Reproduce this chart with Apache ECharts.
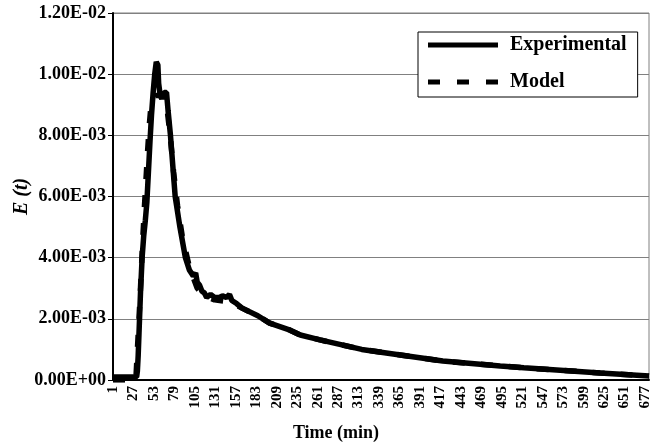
<!DOCTYPE html>
<html>
<head>
<meta charset="UTF-8">
<title>E(t) chart</title>
<script src="https://cdn.jsdelivr.net/npm/echarts@6.0.0/dist/echarts.min.js"></script>
<style>
  html, body { margin: 0; padding: 0; background: #fff; }
  #main { width: 651px; height: 443px; }
</style>
</head>
<body>
<div id="main"></div>
<script>
// tick labels on the time axis
var timeTicks = [1, 27, 53, 79, 105, 131, 157, 183, 209, 235, 261, 287, 313, 339, 365,
  391, 417, 443, 469, 495, 521, 547, 573, 599, 625, 651, 677];

// experimental curve (time, E)
var expTime = [1, 31, 32, 33, 34, 35, 36, 38, 40, 42, 44, 46, 48, 50, 52, 54, 56, 57, 58, 59,
  61, 63, 66, 69, 71, 74, 77, 80, 86, 93, 98, 103, 106, 108, 111, 114, 117, 120, 125, 130,
  136, 140, 145, 149, 152, 158, 165, 185, 200, 226, 239, 264, 317, 366, 420, 493, 523, 620, 682];
var expVal = [0.0001, 0.0001, 0.0003, 0.0008, 0.0015, 0.0022, 0.0029, 0.0040, 0.0047, 0.0052,
  0.0058, 0.0068, 0.0078, 0.0087, 0.0094, 0.0100, 0.0104, 0.01045, 0.0103, 0.0097,
  0.0093, 0.0092, 0.0094, 0.0094, 0.0088, 0.0080, 0.0070, 0.0060, 0.0050, 0.0040, 0.0036, 0.0034, 0.0035, 0.0032, 0.0031, 0.0029,
  0.00285, 0.0027, 0.0028, 0.0027, 0.0027, 0.00275, 0.0027, 0.0028, 0.0026, 0.0025,
  0.00235, 0.0021, 0.00186, 0.00163, 0.00147, 0.00131, 0.00100, 0.00082, 0.00062, 0.00046, 0.00040, 0.00023, 0.00013];

// model curve (time, E)
var modelTime = [1, 30, 31, 33, 35, 37, 39, 41, 43, 45, 47, 49, 51, 55, 60, 66, 70, 74, 78,
  83, 89, 98, 108, 117, 130, 150, 165, 185, 200, 226, 239, 264, 317, 366, 420, 493, 523, 620, 682];
var modelVal = [0, 0, 0.0005, 0.0015, 0.0025, 0.0036, 0.0047, 0.0057, 0.0066, 0.0075, 0.0083,
  0.0089, 0.0092, 0.0093, 0.0093, 0.0093, 0.0088, 0.0079, 0.0068, 0.0057, 0.0047, 0.0037,
  0.0030, 0.00275, 0.00262, 0.00255, 0.00235, 0.0021, 0.00186, 0.00163, 0.00147, 0.00131,
  0.00100, 0.00082, 0.00062, 0.00046, 0.00040, 0.00023, 0.00013];

function pairs(xs, ys) {
  var out = [];
  for (var i = 0; i < xs.length; i++) out.push([xs[i], ys[i]]);
  return out;
}

// 1.20E-02 style labels
function sci(v) {
  if (v === 0) return '0.00E+00';
  var s = v.toExponential(2).toUpperCase();
  var parts = s.split('E');
  var exp = parseInt(parts[1], 10);
  var sign = exp < 0 ? '-' : '+';
  var abs = Math.abs(exp);
  return parts[0] + 'E' + sign + (abs < 10 ? '0' + abs : abs);
}

var serif = '"Liberation Serif", "DejaVu Serif", serif';
var chart = echarts.init(document.getElementById('main'));

chart.setOption({
  animation: false,
  backgroundColor: '#fff',
  grid: {
    left: 113, right: 2, top: 13, bottom: 63,
    outerBoundsMode: 'none',
    show: true, borderColor: '#808080', borderWidth: 1
  },
  legend: {
    orient: 'vertical',
    left: 418, top: 32,
    padding: [3, 11, 5, 10],
    itemWidth: 70, itemHeight: 5, itemGap: 17,
    backgroundColor: '#fff',
    borderColor: '#000', borderWidth: 1,
    textStyle: { fontFamily: serif, fontWeight: 'bold', fontSize: 20, lineHeight: 20, color: '#000', padding: [0, 0, 0, 7] },
    data: [
      { name: 'Experimental', icon: 'path://M0,0h70v5h-70z', itemStyle: { color: '#000' } },
      { name: 'Model', icon: 'path://M0,0h12v5h-12z M29,0h12v5h-12z M58,0h12v5h-12z', itemStyle: { color: '#000' } }
    ]
  },
  xAxis: {
    type: 'value',
    min: 1, max: 682,
    name: 'Time (min)',
    nameLocation: 'middle',
    nameGap: 44,
    nameTextStyle: { fontFamily: serif, fontWeight: 'bold', fontSize: 18, color: '#000', padding: [0, 90, 0, 0] },
    axisLine: { lineStyle: { color: '#000', width: 2 } },
    axisTick: { show: false },
    splitLine: { show: false },
    axisLabel: {
      customValues: timeTicks,
      rotate: 90,
      margin: 6,
      fontFamily: serif, fontWeight: 'bold', fontSize: 15, color: '#000'
    }
  },
  yAxis: {
    type: 'value',
    min: 0, max: 0.012, interval: 0.002,
    name: 'E (t)',
    nameLocation: 'middle',
    nameGap: 81,
    nameMoveOverlap: false,
    nameTextStyle: { fontFamily: serif, fontWeight: 'bold', fontStyle: 'italic', fontSize: 20, color: '#000' },
    axisLine: { show: true, lineStyle: { color: '#000', width: 2 } },
    axisTick: { show: true, length: 5, lineStyle: { color: '#000' } },
    splitLine: { lineStyle: { color: '#808080', width: 1 } },
    axisLabel: {
      formatter: sci,
      margin: 7,
      fontFamily: serif, fontWeight: 'bold', fontSize: 18, color: '#000'
    }
  },
  series: [
    {
      name: 'Experimental',
      type: 'line',
      symbol: 'none',
      data: pairs(expTime, expVal),
      lineStyle: { color: '#000', width: 5.5 },
      itemStyle: { color: '#000' }
    },
    {
      name: 'Model',
      type: 'line',
      symbol: 'none',
      data: pairs(modelTime, modelVal),
      lineStyle: { color: '#000', width: 5.5, type: [12, 16] },
      itemStyle: { color: '#000' }
    }
  ]
});
</script>
</body>
</html>
